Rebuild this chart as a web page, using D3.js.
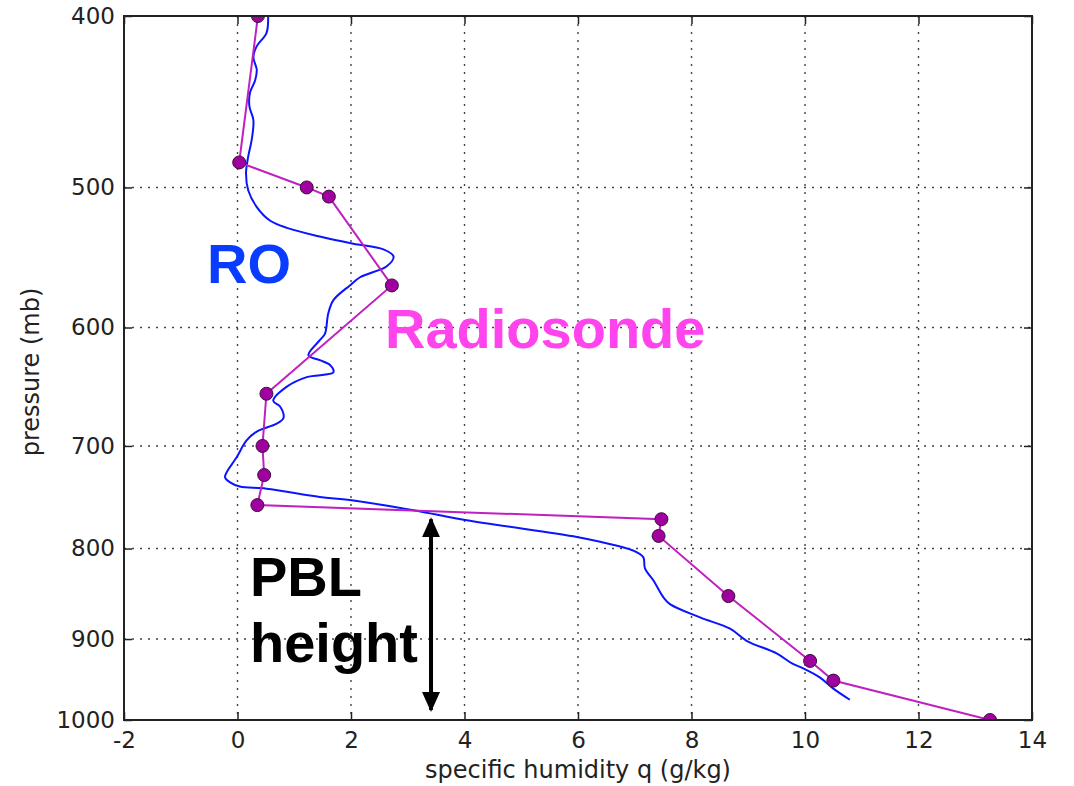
<!DOCTYPE html>
<html>
<head>
<meta charset="utf-8">
<script src="https://cdn.jsdelivr.net/npm/d3@7"></script>
<style>
  body { margin: 0; background: #fff; }
  svg { display: block; }
  .tick text { font-family: "DejaVu Sans", sans-serif; font-size: 23px; fill: #222; }
  .axis-title { font-family: "DejaVu Sans", sans-serif; font-size: 24px; fill: #222; }
  .note { font-family: "Liberation Sans", Arial, sans-serif; font-weight: bold; font-size: 56px; }
</style>
</head>
<body>
<svg id="chart"></svg>
<script>
const WIDTH = 1074;
const HEIGHT = 786;
const margin = {top: 16, right: 42, bottom: 66, left: 124};

// RO profile: pressure (mb) and specific humidity (g/kg)
const roPressure = [400, 409, 416, 422, 429, 435, 442, 450, 458, 470, 480, 491, 502, 513, 522,
  527, 533, 538, 542, 547, 554, 562, 568, 579, 589, 605, 610, 622, 626, 630, 636, 640, 648,
  660, 665, 675, 680, 687, 695, 710, 729, 734, 738, 740, 748, 751, 761, 771, 788, 793, 802,
  809, 821, 834, 852, 860, 875, 888, 902, 917, 929, 935, 946, 960, 974];
const roQ = [0.54, 0.51, 0.34, 0.28, 0.34, 0.31, 0.22, 0.21, 0.28, 0.25, 0.19, 0.15, 0.19, 0.34, 0.57,
  0.87, 1.45, 2.04, 2.57, 2.75, 2.63, 2.16, 1.98, 1.69, 1.60, 1.54, 1.45, 1.25, 1.45, 1.63, 1.69, 1.22, 0.87,
  0.63, 0.75, 0.81, 0.69, 0.34, 0.16, -0.01, -0.22, -0.13, 0.04, 0.51, 1.45, 1.98, 3.10, 4.04, 5.98, 6.39, 6.97,
  7.15, 7.18, 7.33, 7.50, 7.62, 8.15, 8.68, 8.97, 9.50, 9.77, 9.97, 10.26, 10.50, 10.79];

// Radiosonde levels
const sondePressure = [400, 484, 500, 506, 568, 654, 700, 727, 756, 770, 787, 851, 926, 950, 1000];
const sondeQ = [0.36, 0.03, 1.22, 1.61, 2.72, 0.51, 0.44, 0.47, 0.35, 7.47, 7.42, 8.65, 10.09, 10.50, 13.26];

const xTicks = [-2, 0, 2, 4, 6, 8, 10, 12, 14];
const yTicks = [400, 500, 600, 700, 800, 900, 1000];

// PBL height arrow (q position, pressure top and bottom)
const pblQ = 3.41;
const pblRange = [770, 987];

const innerW = WIDTH - margin.left - margin.right;
const innerH = HEIGHT - margin.top - margin.bottom;

// Plain hyphen for negatives, like the original figure.
const fmt = d => String(d);

const svg = d3.select('#chart').attr('width', WIDTH).attr('height', HEIGHT);

const x = d3.scaleLinear().domain([-2, 14]).range([margin.left, margin.left + innerW]);
const y = d3.scaleLog().domain([400, 1000]).range([margin.top, margin.top + innerH]);

svg.append('clipPath').attr('id', 'plot-clip')
  .append('rect')
  .attr('x', margin.left).attr('y', margin.top)
  .attr('width', innerW).attr('height', innerH);

// Dotted grid.
const grid = svg.append('g').attr('stroke', '#444').attr('stroke-width', 1.4)
  .attr('stroke-dasharray', '2,6');
grid.selectAll('.gx').data(xTicks.slice(1, -1)).join('line')
  .attr('x1', d => x(d)).attr('x2', d => x(d))
  .attr('y1', margin.top).attr('y2', margin.top + innerH);
grid.selectAll('.gy').data(yTicks.slice(1, -1)).join('line')
  .attr('x1', margin.left).attr('x2', margin.left + innerW)
  .attr('y1', d => y(d)).attr('y2', d => y(d));

// Axes with inward ticks.
svg.append('g').attr('transform', `translate(0,${margin.top + innerH})`)
  .call(d3.axisBottom(x).tickValues(xTicks).tickSize(-8).tickPadding(12).tickFormat(fmt));
svg.append('g').attr('transform', `translate(${margin.left},0)`)
  .call(d3.axisLeft(y).tickValues(yTicks).tickSize(-8).tickPadding(9).tickFormat(fmt));
svg.append('g').attr('transform', `translate(0,${margin.top})`)
  .call(d3.axisTop(x).tickValues(xTicks).tickSize(-8).tickFormat(''));
svg.append('g').attr('transform', `translate(${margin.left + innerW},0)`)
  .call(d3.axisRight(y).tickValues(yTicks).tickSize(-8).tickFormat(''));
svg.selectAll('.domain').remove();
svg.selectAll('.tick line').attr('stroke', '#222').attr('stroke-width', 1.5);

// Data lines.
const plot = svg.append('g').attr('clip-path', 'url(#plot-clip)');

const roLine = d3.line().x(d => x(roQ[d])).y(d => y(roPressure[d])).curve(d3.curveCatmullRom);
plot.append('path')
  .attr('d', roLine(d3.range(roQ.length)))
  .attr('fill', 'none').attr('stroke', '#0a14ff').attr('stroke-width', 2);

const sondeLine = d3.line().x(d => x(sondeQ[d])).y(d => y(sondePressure[d]));
plot.append('path')
  .attr('d', sondeLine(d3.range(sondeQ.length)))
  .attr('fill', 'none').attr('stroke', '#c020c0').attr('stroke-width', 2);

plot.selectAll('circle').data(d3.range(sondeQ.length)).join('circle')
  .attr('cx', d => x(sondeQ[d])).attr('cy', d => y(sondePressure[d]))
  .attr('r', 6.5).attr('fill', '#a000a0').attr('stroke', '#3a103a').attr('stroke-width', 1);

// Frame.
svg.append('rect')
  .attr('x', margin.left).attr('y', margin.top)
  .attr('width', innerW).attr('height', innerH)
  .attr('fill', 'none').attr('stroke', '#222').attr('stroke-width', 2);

// PBL arrow.
const defs = svg.append('defs');
defs.append('marker').attr('id', 'head')
  .attr('viewBox', '0 0 10 10').attr('refX', 9).attr('refY', 5)
  .attr('markerWidth', 5).attr('markerHeight', 5).attr('markerUnits', 'strokeWidth')
  .attr('orient', 'auto-start-reverse')
  .append('path').attr('d', 'M0,0.5 L10,5 L0,9.5 Z').attr('fill', '#000');
svg.append('line')
  .attr('x1', x(pblQ)).attr('x2', x(pblQ))
  .attr('y1', y(pblRange[0])).attr('y2', y(pblRange[1]))
  .attr('stroke', '#000').attr('stroke-width', 4)
  .attr('marker-start', 'url(#head)').attr('marker-end', 'url(#head)');

// Annotations.
svg.append('text').attr('class', 'note').attr('x', 207).attr('y', 283)
  .attr('fill', '#0a3cff').text('RO');
svg.append('text').attr('class', 'note').attr('x', 385).attr('y', 348)
  .attr('fill', '#ff44ee').text('Radiosonde');
svg.append('text').attr('class', 'note').attr('x', 250).attr('y', 596)
  .attr('fill', '#000').text('PBL');
svg.append('text').attr('class', 'note').attr('x', 250).attr('y', 662)
  .attr('fill', '#000').text('height');

// Axis titles.
svg.append('text').attr('class', 'axis-title')
  .attr('x', margin.left + innerW / 2).attr('y', 778)
  .attr('text-anchor', 'middle').text('specific humidity q (g/kg)');
svg.append('text').attr('class', 'axis-title')
  .attr('transform', `translate(39,${margin.top + innerH / 2 + 4}) rotate(-90)`)
  .attr('text-anchor', 'middle').text('pressure (mb)');
</script>
</body>
</html>
